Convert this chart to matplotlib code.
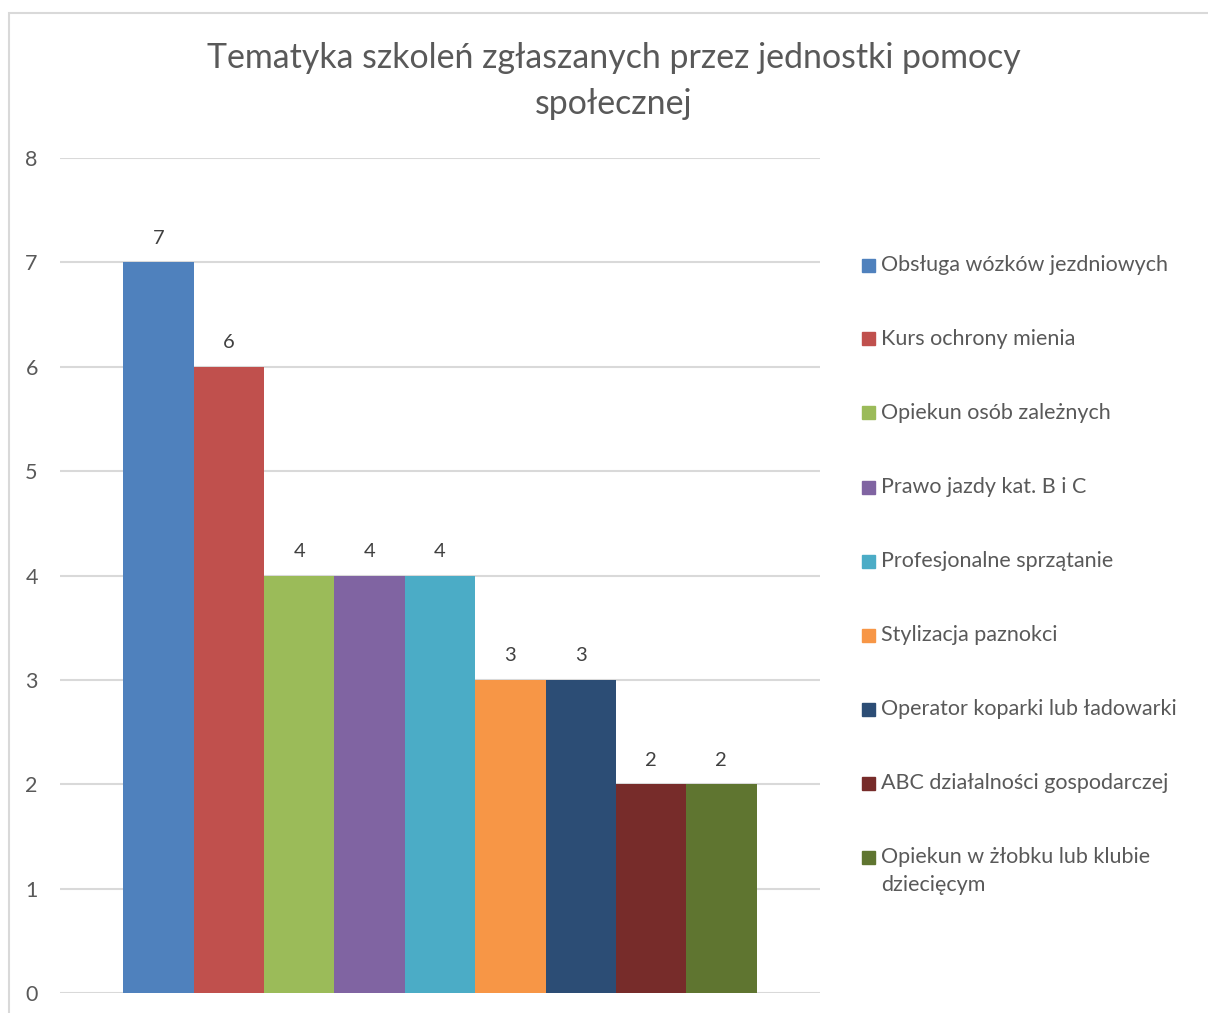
import matplotlib.pyplot as plt
from matplotlib.patches import Rectangle

plt.rcParams['font.family'] = ['Lato', 'DejaVu Sans']

# data
categories = [
    'Obsługa wózków jezdniowych',
    'Kurs ochrony mienia',
    'Opiekun osób zależnych',
    'Prawo jazdy kat. B i C',
    'Profesjonalne sprzątanie',
    'Stylizacja paznokci',
    'Operator koparki lub ładowarki',
    'ABC działalności gospodarczej',
    'Opiekun w żłobku lub klubie\ndziecięcym',
]
values = [7, 6, 4, 4, 4, 3, 3, 2, 2]
colors = ['#4F81BD', '#C0504D', '#9BBB59', '#8064A2', '#4BACC6',
          '#F79646', '#2C4D75', '#772C2A', '#5F7530']
yticks = [0, 1, 2, 3, 4, 5, 6, 7, 8]
title = 'Tematyka szkoleń zgłaszanych przez jednostki pomocy\nspołecznej'

W, H = 1208, 1013
fig = plt.figure(figsize=(W / 100, H / 100), dpi=100)

# light border of the chart area (cut off on the right and bottom)
fig.patches.append(Rectangle((8.5 / W, -0.1), 1.2, (H - 13.5) / H + 0.1,
                             transform=fig.transFigure, fill=False,
                             edgecolor='#D9D9D9', linewidth=1.5))

ax = fig.add_axes([60 / W, (H - 993) / H, 760 / W, (993 - 158) / H])

# bars side by side, one series per category
n = len(values)
bw = 0.833 / n
start = -0.833 / 2
for i, (v, c) in enumerate(zip(values, colors)):
    x = start + bw * (i + 0.5)
    ax.bar(x, v, width=bw, color=c, zorder=3)
    ax.text(x, v + 0.15, str(v), ha='center', va='bottom',
            fontsize=14.5, color='#404040')

ax.set_xlim(-0.5, 0.5)
ax.set_ylim(0, 8)
ax.set_yticks(yticks)
ax.set_xticks([])
ax.grid(axis='y', color='#D9D9D9', linewidth=1.5, zorder=0)
for s in ax.spines.values():
    s.set_visible(False)
ax.tick_params(axis='y', length=0, pad=16, labelsize=15.5, labelcolor='#595959')

fig.text(613.5 / W, 1 - 81 / H, title, ha='center', va='center',
         fontsize=24.4, color='#595959', linespacing=1.55)

# legend drawn by hand, marker aligned with the first line
for i, (name, c) in enumerate(zip(categories, colors)):
    y = 265 + 74 * i
    fig.patches.append(Rectangle((862 / W, 1 - (y + 6.5) / H), 13 / W, 13 / H,
                                 transform=fig.transFigure, color=c))
    fig.text(881 / W, 1 - (y - 10) / H, name, ha='left', va='top',
             fontsize=15.5, color='#595959', linespacing=1.5)

plt.savefig('out.png', dpi=100)
